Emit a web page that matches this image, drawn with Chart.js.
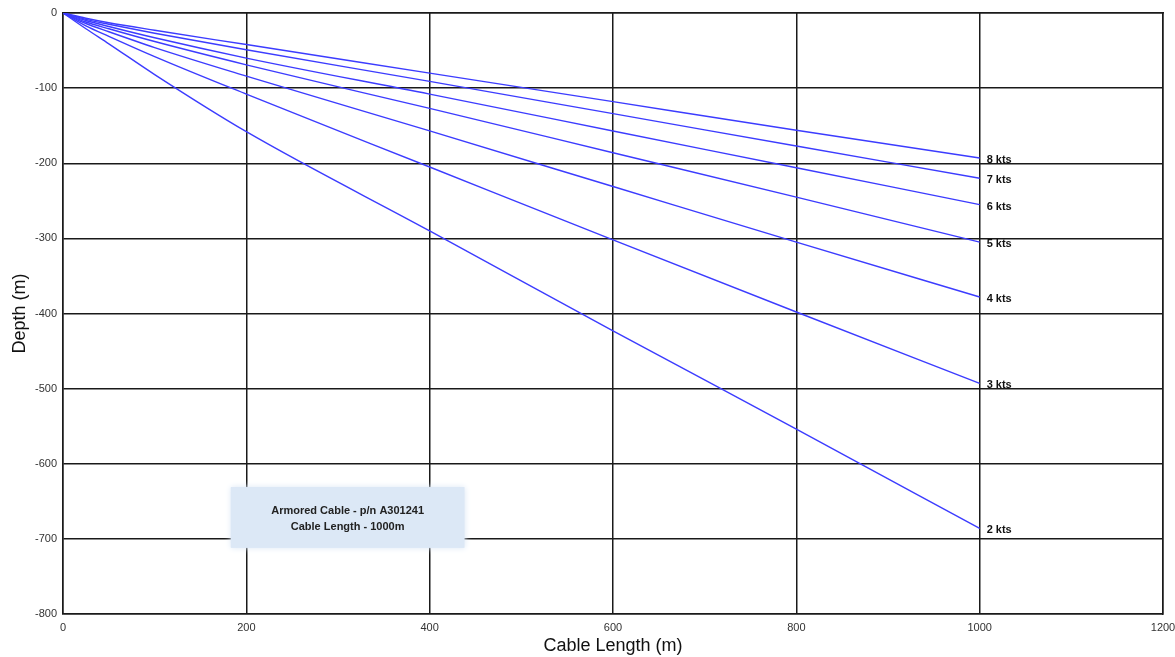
<!DOCTYPE html>
<html lang="en">
<head>
  <meta charset="UTF-8">
  <title>Cable Depth vs Length</title>
  <script src="https://cdn.jsdelivr.net/npm/chart.js"></script>
  <style>
    html, body { margin: 0; padding: 0; background: #fff; overflow: hidden; }
    #wrap { width: 1190px; height: 657px; }
  </style>
</head>
<body>
  <div id="wrap"><canvas id="depthChart" width="1190" height="657"></canvas></div>
  <script>
    // cable length sample points (m)
    const lengths = [0, 25, 50, 100, 200, 400, 600, 800, 1000];

    // depth (m) per tow speed
    const kts2 = [0, -21, -41, -82, -158, -290, -423, -554, -686];
    const kts3 = [0, -17, -31, -58, -108, -205, -302, -398, -493];
    const kts4 = [0, -14, -25, -46, -84, -157, -231, -305, -378];
    const kts5 = [0, -12, -21, -38, -69, -127, -186, -245, -305];
    const kts6 = [0, -10, -18, -33, -60, -108, -157, -206, -255];
    const kts7 = [0, -8.5, -15, -27, -49, -91, -134, -177, -220];
    const kts8 = [0, -7, -13, -23, -42, -80, -118, -156, -193];

    const seriesNames = ['2 kts', '3 kts', '4 kts', '5 kts', '6 kts', '7 kts', '8 kts'];
    const seriesValues = [kts2, kts3, kts4, kts5, kts6, kts7, kts8];

    const xTicks = [0, 200, 400, 600, 800, 1000, 1200];
    const yTicks = [0, -100, -200, -300, -400, -500, -600, -700, -800];

    const noteLines = ['Armored Cable - p/n A301241', 'Cable Length - 1000m'];

    const datasets = seriesValues.map((vals, i) => ({
      label: seriesNames[i],
      data: lengths.map((x, j) => ({ x: x, y: vals[j] })),
      borderColor: '#3c3cff',
      borderWidth: 1.4,
      pointRadius: 0,
      fill: false,
      cubicInterpolationMode: 'monotone'
    }));

    // speed labels at the end of each curve + note box
    const endLabels = {
      id: 'endLabels',
      afterDatasetsDraw(chart) {
        const ctx = chart.ctx;
        const xs = chart.scales.x, ys = chart.scales.y;

        // note box
        const bx1 = xs.getPixelForValue(183), bx2 = xs.getPixelForValue(438);
        const by1 = ys.getPixelForValue(-631), by2 = ys.getPixelForValue(-712);
        ctx.save();
        ctx.fillStyle = '#dce8f6';
        ctx.shadowColor = '#dce8f6';
        ctx.shadowBlur = 6;
        ctx.fillRect(bx1, by1, bx2 - bx1, by2 - by1);
        ctx.shadowBlur = 0;
        ctx.fillStyle = '#222';
        ctx.font = 'bold 11px "Liberation Sans", Arial, sans-serif';
        ctx.textAlign = 'center';
        ctx.textBaseline = 'middle';
        const cx = (bx1 + bx2) / 2;
        ctx.fillText(noteLines[0], cx, by1 + 24);
        ctx.fillText(noteLines[1], cx, by1 + 40);
        ctx.restore();

        ctx.save();
        ctx.fillStyle = '#111';
        ctx.font = 'bold 11px "Liberation Sans", Arial, sans-serif';
        ctx.textAlign = 'left';
        ctx.textBaseline = 'middle';
        chart.data.datasets.forEach((ds, i) => {
          const pts = chart.getDatasetMeta(i).data;
          const p = pts[pts.length - 1];
          ctx.fillText(ds.label, p.x + 7, p.y + 2);
        });
        ctx.restore();
      }
    };

    new Chart(document.getElementById('depthChart'), {
      type: 'line',
      data: { datasets: datasets },
      options: {
        responsive: false,
        animation: false,
        layout: { padding: { top: 13, left: 0, right: 27, bottom: 0 } },
        plugins: { legend: { display: false }, tooltip: { enabled: false } },
        scales: {
          x: {
            type: 'linear',
            min: 0,
            max: 1200,
            afterBuildTicks: (s) => { s.ticks = xTicks.map(v => ({ value: v })); },
            afterFit: (s) => { s.height = 43; },
            grid: { color: '#1a1a1a', lineWidth: 1.5, drawTicks: false },
            border: { color: '#1a1a1a', width: 1.5 },
            ticks: { color: '#333', padding: 7, maxRotation: 0, callback: (v) => String(v), font: { family: '"Liberation Sans", Arial', size: 11 } },
            title: { display: true, text: 'Cable Length (m)', color: '#111', padding: { top: 4, bottom: 0 }, font: { family: '"Liberation Sans", Arial', size: 18 } }
          },
          y: {
            type: 'linear',
            min: -800,
            max: 0,
            afterBuildTicks: (s) => { s.ticks = yTicks.map(v => ({ value: v })); },
            afterFit: (s) => { s.width = 63; },
            grid: { color: '#1a1a1a', lineWidth: 1.5, drawTicks: false },
            border: { color: '#1a1a1a', width: 1.5 },
            ticks: { color: '#333', padding: 6, callback: (v) => String(v), font: { family: '"Liberation Sans", Arial', size: 11 } },
            title: { display: true, text: 'Depth (m)', color: '#111', padding: { top: 9, bottom: 0 }, font: { family: '"Liberation Sans", Arial', size: 18 } }
          },
          x2: {
            type: 'linear', position: 'top', min: 0, max: 1200,
            afterFit: (s) => { s.height = 0; },
            grid: { display: false }, ticks: { display: false },
            border: { color: '#1a1a1a', width: 1.5 }
          },
          y2: {
            type: 'linear', position: 'right', min: -800, max: 0,
            afterFit: (s) => { s.width = 0; },
            grid: { display: false }, ticks: { display: false },
            border: { color: '#1a1a1a', width: 1.5 }
          }
        }
      },
      plugins: [endLabels]
    });
  </script>
</body>
</html>
